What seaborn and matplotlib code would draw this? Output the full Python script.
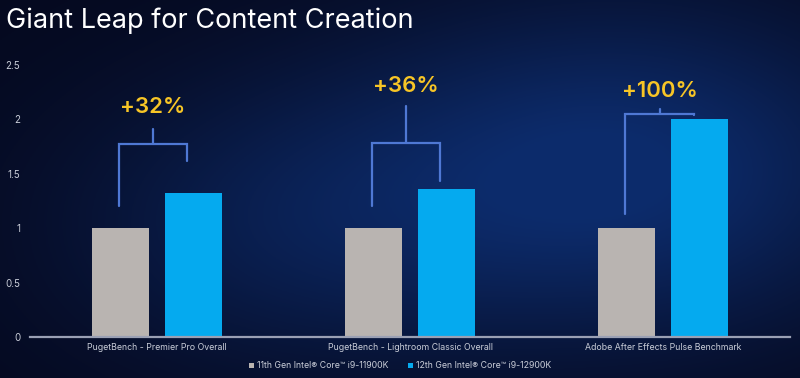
import numpy as np
import pandas as pd
import seaborn as sns
import matplotlib.pyplot as plt
from matplotlib.patches import Patch

benchmarks = ["PugetBench - Premier Pro Overall",
              "PugetBench - Lightroom Classic Overall",
              "Adobe After Effects Pulse Benchmark"]
cpus = ["11th Gen Intel\u00ae Core\u2122 i9-11900K",
        "12th Gen Intel\u00ae Core\u2122 i9-12900K"]
gen11 = [1.0, 1.0, 1.0]
gen12 = [1.32, 1.36, 2.0]
uplift = ["+32%", "+36%", "+100%"]

# bracket layout (data units)
br_top = [1.77, 1.78, 2.05]
br_left_bot = [1.205, 1.20, 1.13]
br_right_bot = [1.62, 1.43, 2.04]
br_stem_top = [1.91, 2.12, 2.10]
label_y = [2.11, 2.31, 2.26]

df = pd.DataFrame({
    "Benchmark": benchmarks * 2,
    "CPU": [cpus[0]] * 3 + [cpus[1]] * 3,
    "Score": gen11 + gen12,
})

sns.set_theme(style="white")
plt.rcParams['font.family'] = ['Inter', 'DejaVu Sans']

colors = ["#b9b4b1", "#05aaef"]
txt_col = "#c9cdd8"

fig = plt.figure(figsize=(8, 3.78), dpi=100)

# dark navy backdrop with a blue glow on the right
bg = fig.add_axes([0, 0, 1, 1], zorder=-10)
yy, xx = np.mgrid[0:1:200j, 0:1:400j]
glow = np.exp(-(((xx - 0.78) / 0.35) ** 2 + ((yy - 0.45) / 0.45) ** 2))
glow2 = 0.5 * np.exp(-(((xx - 0.35) / 0.3) ** 2 + ((yy - 0.6) / 0.4) ** 2))
base = np.array([0.02, 0.035, 0.12])
hi = np.array([0.05, 0.17, 0.42])
g = np.clip(glow + glow2, 0, 1)[..., None]
img = base * (1 - g) + hi * g
bg.imshow(img, aspect="auto", extent=[0, 1, 0, 1], origin="upper")
bg.axis("off")

ax = fig.add_axes([30 / 800, 1 - 337 / 378, 760 / 800, 272 / 378])
ax.set_facecolor("none")
sns.barplot(data=df, x="Benchmark", y="Score", hue="CPU", palette=colors,
            width=0.577, gap=0.22, saturation=1, linewidth=0, ax=ax, legend=False)

ax.set_xlim(-0.5, 2.5)
ax.set_ylim(0, 2.5)
ax.set_yticks([0, 0.5, 1, 1.5, 2, 2.5])
ax.set_yticklabels(["0", "0.5", "1", "1.5", "2", "2.5"])
ax.set_xlabel("")
ax.set_ylabel("")
ax.tick_params(axis="y", length=0, pad=7, labelsize=7, labelcolor=txt_col)
ax.tick_params(axis="x", length=0, pad=4, labelsize=6.3, labelcolor=txt_col)
for s in ["top", "right", "left"]:
    ax.spines[s].set_visible(False)
ax.spines["bottom"].set_color("#9aa0b4")
ax.spines["bottom"].set_linewidth(1.6)
ax.grid(False)

bc = "#4f78d4"
for i in range(3):
    xl, xr = i - 0.15, i + 0.12
    xm = (xl + xr) / 2
    ax.plot([xl, xl, xr, xr], [br_left_bot[i], br_top[i], br_top[i], br_right_bot[i]],
            color=bc, lw=1.6, solid_joinstyle="miter", clip_on=False)
    ax.plot([xm, xm], [br_top[i], br_stem_top[i]], color=bc, lw=1.6, clip_on=False)
    ax.text(xm, label_y[i], uplift[i], ha="center", va="center", fontsize=16,
            color="#f7c526", fontweight="semibold", clip_on=False)

fig.text(6 / 800, 1 - 21 / 378, "Giant Leap for Content Creation", fontsize=19.5,
         color="white", va="center", ha="left")

handles = [Patch(facecolor=c, edgecolor="none") for c in colors]
fig.legend(handles, cpus, loc="center", bbox_to_anchor=(0.5, 1 - 366 / 378),
           ncol=2, frameon=False, fontsize=6.3, labelcolor=txt_col,
           handlelength=0.6, handleheight=0.6, handletextpad=0.3, columnspacing=2.2)

fig.savefig("out.png", dpi=100)
